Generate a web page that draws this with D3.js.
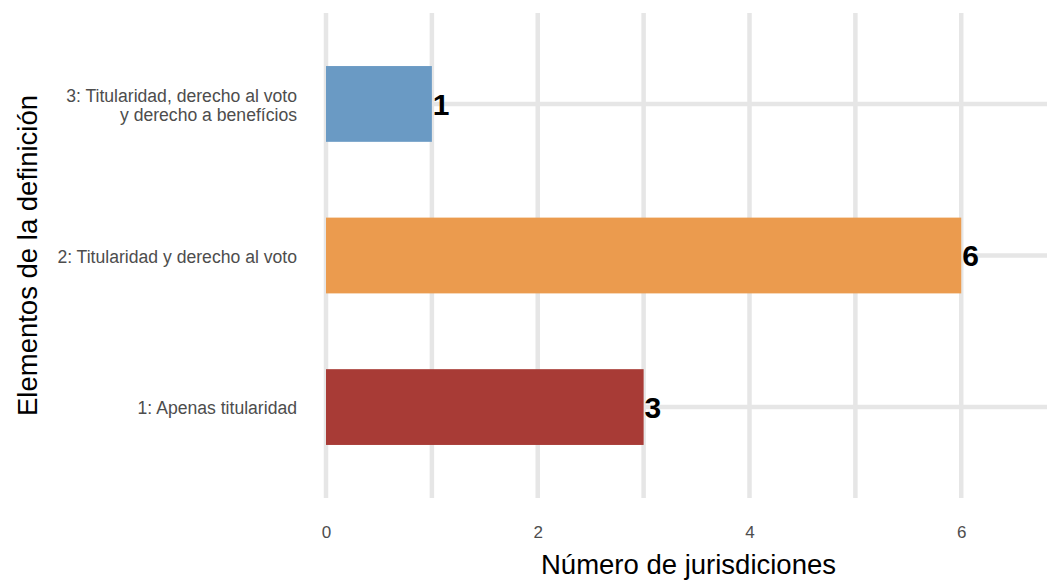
<!DOCTYPE html>
<html>
<head>
<meta charset="utf-8">
<script src="https://cdn.jsdelivr.net/npm/d3@7"></script>
<style>
  html, body { margin: 0; padding: 0; background: #fff; }
  svg { display: block; font-family: "Liberation Sans", Arial, Helvetica, sans-serif; }
</style>
</head>
<body>
<svg id="chart" width="1047" height="580"></svg>
<script>
// Categories (bottom to top) and their counts
const categories = [
  "1: Apenas titularidad",
  "2: Titularidad y derecho al voto",
  "3: Titularidad, derecho al voto\ny derecho a benefícios"
];
const values = [3, 6, 1];
const barColors = ["#a83b36", "#eb9b4e", "#6a9ac4"];
const xTicks = [0, 2, 4, 6];
const xGrid = [0, 1, 2, 3, 4, 5, 6];
const xTitle = "Número de jurisdiciones";
const yTitle = "Elementos de la definición";

const svg = d3.select("#chart");
const panel = { left: 326, right: 1047, top: 13, bottom: 498 };

const x = d3.scaleLinear().domain([0, 6.81]).range([panel.left, panel.right]);

// Discrete axis with 0.6 band padding at both ends
const y = d3.scalePoint()
  .domain(categories)
  .range([panel.bottom, panel.top])
  .padding(0.6);
const step = y.step();
const barH = step * 0.5;

const grid = svg.append("g").attr("stroke", "#e6e6e6").attr("stroke-width", 4.5);

grid.selectAll("line.v").data(xGrid).join("line")
  .attr("class", "v")
  .attr("x1", d => x(d)).attr("x2", d => x(d))
  .attr("y1", panel.top).attr("y2", panel.bottom);

grid.selectAll("line.h").data(categories).join("line")
  .attr("class", "h")
  .attr("x1", panel.left).attr("x2", panel.right)
  .attr("y1", d => y(d)).attr("y2", d => y(d));

// Bars
svg.append("g").selectAll("rect").data(categories).join("rect")
  .attr("x", x(0))
  .attr("y", d => y(d) - barH / 2)
  .attr("width", (d, i) => x(values[i]) - x(0))
  .attr("height", barH)
  .attr("fill", (d, i) => barColors[i]);

// Value labels
svg.append("g").selectAll("text").data(categories).join("text")
  .attr("x", (d, i) => x(values[i]) + 1)
  .attr("y", d => y(d))
  .attr("dy", "0.36em")
  .attr("font-size", 30)
  .attr("font-weight", "bold")
  .attr("fill", "#000")
  .text((d, i) => values[i]);

// X axis tick labels
const xAxis = d3.axisBottom(x).tickValues(xTicks).tickSize(0).tickPadding(0).tickFormat(d3.format("d"));
const gx = svg.append("g").attr("transform", `translate(0,${panel.bottom + 28})`).call(xAxis);
gx.select(".domain").remove();
gx.selectAll("text").attr("font-size", 17).attr("fill", "#4d4d4d")
  .attr("font-family", "Liberation Sans, Arial, sans-serif");

// Y axis tick labels (multi-line, right aligned)
const gy = svg.append("g");
categories.forEach(c => {
  const lines = c.split("\n");
  const lh = 18.5;
  const t = gy.append("text")
    .attr("text-anchor", "end")
    .attr("font-size", 17.6)
    .attr("fill", "#4d4d4d")
    .attr("transform", `translate(297,${y(c) + 1 - (lines.length - 1) * lh / 2})`);
  lines.forEach((ln, k) => {
    t.append("tspan").attr("x", 0).attr("y", k * lh).attr("dy", "0.36em").text(ln);
  });
});

// Axis titles
svg.append("text")
  .attr("x", (panel.left + panel.right) / 2 + 2)
  .attr("y", 574)
  .attr("text-anchor", "middle")
  .attr("font-size", 27.5)
  .attr("fill", "#000")
  .text(xTitle);

svg.append("text")
  .attr("transform", `translate(37,${(panel.top + panel.bottom) / 2}) rotate(-90)`)
  .attr("text-anchor", "middle")
  .attr("font-size", 27.5)
  .attr("fill", "#000")
  .text(yTitle);
</script>
</body>
</html>
